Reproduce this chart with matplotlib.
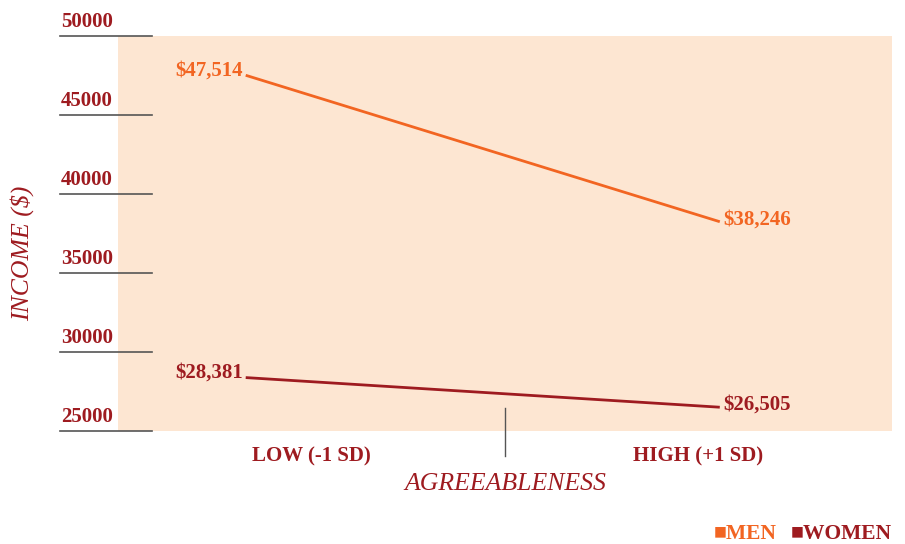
import matplotlib
matplotlib.use("Agg")
import matplotlib.pyplot as plt
import matplotlib.transforms as mtransforms

# data
categories = ["LOW (-1 SD)", "HIGH (+1 SD)"]
men_income = [47514, 38246]
women_income = [28381, 26505]
y_ticks = [25000, 30000, 35000, 40000, 45000, 50000]

MEN_COLOR = "#F26522"
WOMEN_COLOR = "#9E1B20"
BG_COLOR = "#FDE6D2"
TICK_COLOR = "#555555"
SERIF = ["Liberation Serif", "DejaVu Serif"]

# point positions inside the two category bands (band 0..1, 1..2)
point_x = [0.33, 1.555]
label_x = [0.5, 1.5]

plt.rcParams["font.family"] = SERIF

fig = plt.figure(figsize=(9.05, 5.44), dpi=100)
ax = fig.add_axes([118 / 905, 1 - 431 / 544, 774 / 905, 395 / 544])
ax.set_facecolor(BG_COLOR)
for s in ax.spines.values():
    s.set_visible(False)
ax.set_xlim(0, 2)
ax.set_ylim(25000, 50000)
ax.set_xticks([])
ax.set_yticks([])

# y tick lines extending left of the shaded area
for v in y_ticks:
    ax.axhline(v, xmin=-0.075, xmax=0.044, color=TICK_COLOR, lw=1.2, clip_on=False)
    ax.text(-0.074, v + 250, str(v), transform=ax.get_yaxis_transform(),
            ha="left", va="bottom", fontsize=15, fontweight="bold",
            color=WOMEN_COLOR)

# lines
ax.plot(point_x, men_income, color=MEN_COLOR, lw=2, solid_capstyle="butt")
ax.plot(point_x, women_income, color=WOMEN_COLOR, lw=2, solid_capstyle="butt")

# value labels
for series, color in [(men_income, MEN_COLOR), (women_income, WOMEN_COLOR)]:
    ax.text(point_x[0] - 0.008, series[0] + 300, f"${series[0]:,}", ha="right",
            va="center", fontsize=15, fontweight="bold", color=color)
    ax.text(point_x[1] + 0.008, series[1] + 150, f"${series[1]:,}", ha="left",
            va="center", fontsize=15, fontweight="bold", color=color)

# category labels and middle divider
xform = mtransforms.blended_transform_factory(ax.transData, ax.transAxes)
for x, lab in zip(label_x, categories):
    ax.text(x, -0.065, lab, transform=xform, ha="center", va="center",
            fontsize=15, fontweight="bold", color=WOMEN_COLOR)
ax.plot([1, 1], [0.058, -0.063], transform=xform, color=TICK_COLOR, lw=1,
        clip_on=False)

# axis titles
fig.text(505 / 905, 1 - 484 / 544, "AGREEABLENESS", ha="center", va="center",
         fontsize=18.5, fontstyle="italic", color=WOMEN_COLOR)
fig.text(22 / 905, 1 - 253 / 544, "INCOME ($)", ha="center", va="center",
         rotation=90, fontsize=18.5, fontstyle="italic", color=WOMEN_COLOR)

# legend
fig.text(892 / 905, 1 - 534 / 544, "\u25a0WOMEN", ha="right", va="center",
         fontsize=15.5, fontweight="bold", color=WOMEN_COLOR,
         family=["Liberation Serif", "DejaVu Sans"])
fig.text(777 / 905, 1 - 534 / 544, "\u25a0MEN", ha="right", va="center",
         fontsize=15.5, fontweight="bold", color=MEN_COLOR,
         family=["Liberation Serif", "DejaVu Sans"])

fig.savefig("out.png", dpi=100)
